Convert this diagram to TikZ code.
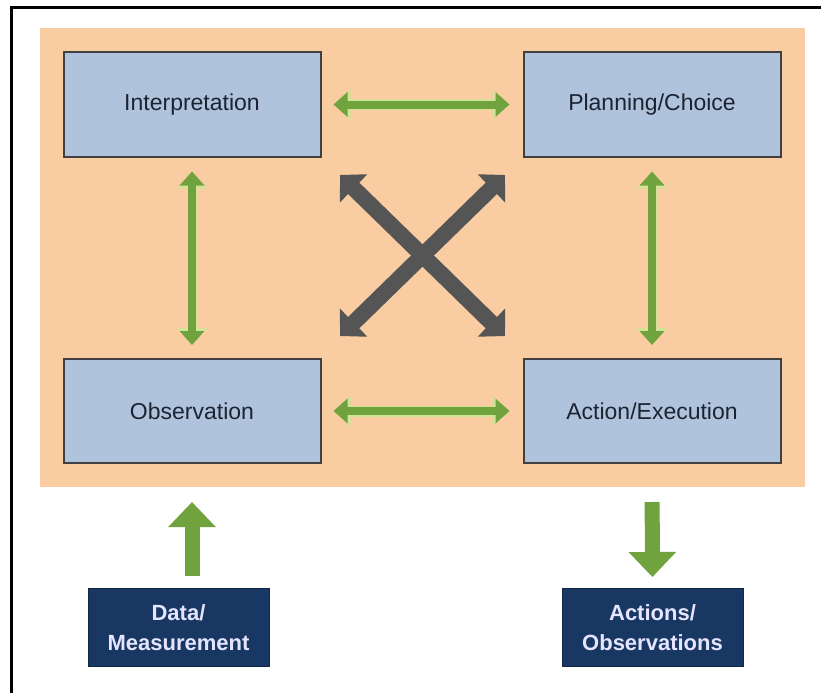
\documentclass[tikz,border=0pt]{standalone}
\usepackage{fontspec}
\setmainfont{Liberation Sans}
\usetikzlibrary{arrows.meta}
\definecolor{peach}{RGB}{250,204,162}
\definecolor{boxblue}{RGB}{176,195,221}
\definecolor{boxedge}{RGB}{64,64,64}
\definecolor{leaf}{RGB}{112,162,62}
\definecolor{glow}{RGB}{210,226,150}
\definecolor{xgray}{RGB}{85,85,85}
\definecolor{navy}{RGB}{24,55,98}
\definecolor{txt}{RGB}{28,36,50}
\begin{document}
\begin{tikzpicture}[x=1pt,y=-1pt,
  stepbox/.style={draw=boxedge, line width=2pt, fill=boxblue, minimum width=257pt, minimum height=104pt,
    font=\fontsize{23}{27}\selectfont, text=txt, inner sep=0pt, outer sep=0pt},
  navybox/.style={fill=navy, draw=navy!70!black, line width=1pt, minimum width=181pt, minimum height=78pt,
    font=\bfseries\fontsize{22}{30}\selectfont, text=white!90!blue, align=center, inner sep=0pt, outer sep=0pt},
  glowlink/.style={draw=glow, line width=11pt, {Triangle[length=17pt,width=29pt]}-{Triangle[length=17pt,width=29pt]}},
  link/.style={draw=leaf, line width=8pt, {Triangle[length=14pt,width=24pt]}-{Triangle[length=14pt,width=24pt]}},
  bigarrow/.style={draw=leaf, line width=15pt, -{Triangle[length=25pt,width=46pt]}},
  xarrow/.style={draw=xgray, line width=16pt, {Triangle[angle=90:27pt]}-{Triangle[angle=90:27pt]}}
]
\useasboundingbox (0,0) rectangle (821,693);
\fill[white] (0,0) rectangle (821,693);
% frame
\draw[line width=3.5pt] (11.5,693) -- (11.5,7.5) -- (821,7.5);
% peach background
\fill[peach] (40,28) rectangle (805,487);

% main boxes
\node[stepbox] (interp) at (192,104.5) {Interpretation};
\node[stepbox] (plan) at (652,104.5) {Planning/Choice};
\node[stepbox] (obs) at (192,411) {Observation};
\node[stepbox] (act) at (652,411) {Action/Execution};

% input/output boxes
\node[navybox] (data) at (178.5,627.5) {Data/\\Measurement};
\node[navybox] (aobs) at (652.5,627.5) {Actions/\\Observations};

% green double arrows
\foreach \a/\b/\s/\e in {interp/plan/13/14, obs/act/13/14, interp/obs/15/14, plan/act/15/14}{
  \draw[glowlink, shorten <=\s pt, shorten >=\e pt] (\a) -- (\b);
  \draw[link, shorten <=\s pt, shorten >=\e pt] (\a) -- (\b);
}

% gray cross
\coordinate (xtl) at (340,175);
\coordinate (xtr) at (505,175);
\coordinate (xbl) at (340,336);
\coordinate (xbr) at (505,336);
\draw[xarrow] (xtl) -- (xbr);
\draw[xarrow] (xbl) -- (xtr);

% big arrows
\draw[bigarrow, shorten <=12.5pt, shorten >=39pt] (obs |- data.north) -- (obs.south);
\draw[bigarrow, shorten <=39pt, shorten >=11.5pt] (act.south) -- (aobs.north);
\end{tikzpicture}
\end{document}
